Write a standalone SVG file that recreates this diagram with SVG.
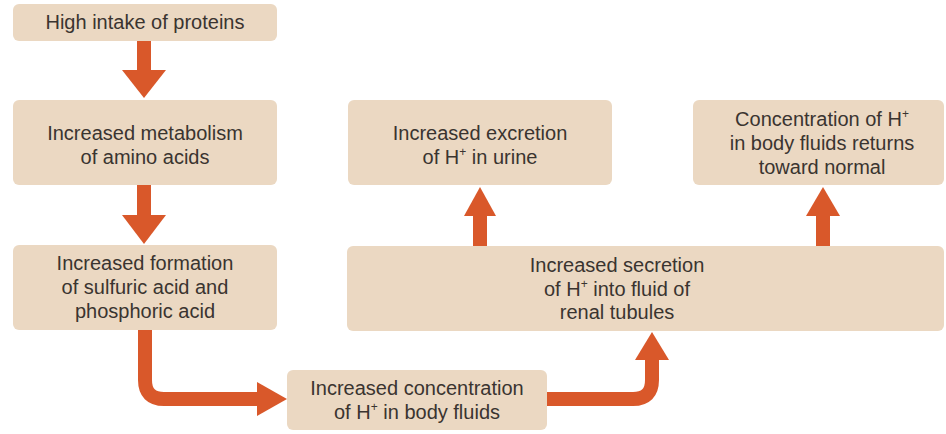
<svg xmlns="http://www.w3.org/2000/svg" width="946" height="434" viewBox="0 0 946 434">
<defs>
<style>
.box{fill:#EBD8C2;}
.t{font-family:"Liberation Sans",Arial,sans-serif;font-size:20px;fill:#3a3430;text-anchor:middle;}
.sup{font-size:12px;}
.arr{fill:#D9582A;}
.shaft{fill:none;stroke:#D9582A;stroke-width:14;}
</style>
</defs>
<rect width="946" height="434" fill="#ffffff"/>
<g id="connectors">
<rect class="arr" x="137" y="41" width="14" height="30"/>
<polygon class="arr" points="122,70 166,70 144,98"/>
<rect class="arr" x="137" y="185" width="14" height="31"/>
<polygon class="arr" points="122,215 166,215 144,244"/>
<path class="shaft" d="M145,330 V380 Q145,399 164,399 H260"/>
<polygon class="arr" points="257,382 287,399 257,416"/>
<path class="shaft" d="M547,399 H633 Q652,399 652,380 V358"/>
<polygon class="arr" points="635,360 652,332 669,360"/>
<rect class="arr" x="473" y="214" width="14" height="32"/>
<polygon class="arr" points="464,216 496,216 480,187"/>
<rect class="arr" x="816" y="214" width="14" height="32"/>
<polygon class="arr" points="806,216 840,216 823,187"/>
</g>
<g id="n1"><rect class="box" x="13" y="4" width="264" height="37" rx="6"/>
<text class="t" x="145" y="29">High intake of proteins</text></g>
<g id="n2"><rect class="box" x="13" y="100" width="264" height="85" rx="6"/>
<text class="t" x="145" y="140">Increased metabolism</text>
<text class="t" x="145" y="164">of amino acids</text></g>
<g id="n3"><rect class="box" x="13" y="245" width="264" height="85" rx="6"/>
<text class="t" x="145" y="270">Increased formation</text>
<text class="t" x="145" y="294">of sulfuric acid and</text>
<text class="t" x="145" y="318">phosphoric acid</text></g>
<g id="n4"><rect class="box" x="287" y="370" width="260" height="60" rx="6"/>
<text class="t" x="417" y="395">Increased concentration</text>
<text class="t" x="417" y="419">of H<tspan class="sup" dy="-8">+</tspan><tspan dy="8"> in body fluids</tspan></text></g>
<g id="n5"><rect class="box" x="347" y="246" width="597" height="85" rx="6"/>
<text class="t" x="617" y="272">Increased secretion</text>
<text class="t" x="617" y="296">of H<tspan class="sup" dy="-8">+</tspan><tspan dy="8"> into fluid of</tspan></text>
<text class="t" x="617" y="319">renal tubules</text></g>
<g id="n6"><rect class="box" x="348" y="100" width="264" height="85" rx="6"/>
<text class="t" x="480" y="140">Increased excretion</text>
<text class="t" x="480" y="164">of H<tspan class="sup" dy="-8">+</tspan><tspan dy="8"> in urine</tspan></text></g>
<g id="n7"><rect class="box" x="693" y="100" width="251" height="85" rx="6"/>
<text class="t" x="822" y="126">Concentration of H<tspan class="sup" dy="-8">+</tspan></text>
<text class="t" x="822" y="150">in body fluids returns</text>
<text class="t" x="822" y="174">toward normal</text></g>
</svg>
